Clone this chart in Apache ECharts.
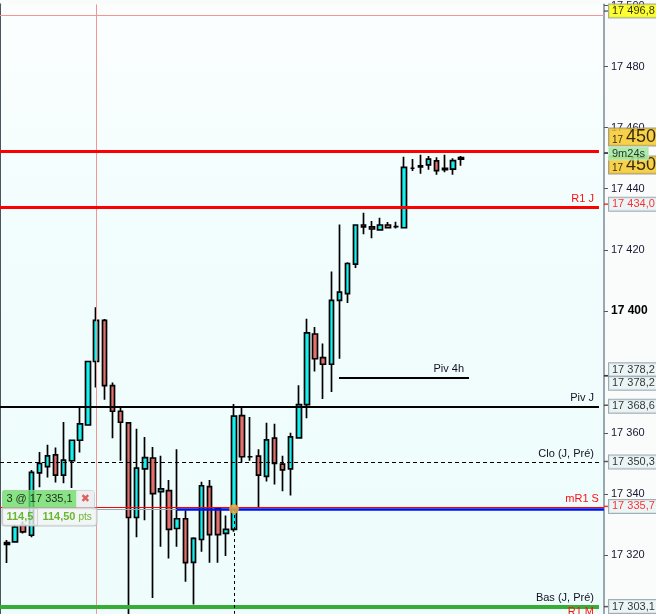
<!DOCTYPE html>
<html><head><meta charset="utf-8">
<script src="https://cdn.jsdelivr.net/npm/echarts@6/dist/echarts.min.js"></script>
<style>html,body{margin:0;padding:0;background:#fafcfc}#c{width:656px;height:614px}</style>
</head><body><div id="c"></div><script>
// ---- data ----
const candleIndex = [0,1,2,3,4,5,6,7,8,9,10,11,12,13,14,15,16,17,18,19,20,21,22,23,24,25,26,27,28,29,30,31,32,33,34,35,36,37,38,39,40,41,42,43,44,45,46,47,48,49,50,51,52,53,54,55,56];
const opens = [17323.5,17324.3,17329.7,17326.5,17346.9,17349.0,17352.8,17346.2,17350.9,17357.6,
17362.6,17383.4,17396.9,17375.5,17367.1,17363.3,17332.3,17348.2,17351.8,17340.8,
17341.1,17328.7,17331.9,17317.6,17325.1,17342.4,17335.2,17327.1,17328.4,17365.7,
17352.2,17352.4,17345.8,17358.3,17349.8,17348.2,17358.4,17369.3,17392.4,17384.7,
17382.5,17403.4,17405.6,17415.3,17428.1,17427.5,17426.5,17428.1,17427.6,17427.2,
17446.7,17447.1,17447.8,17449.1,17446.2,17446.4,17449.7];
const closes = [17324.1,17329.2,17327.6,17347.1,17350.0,17352.5,17346.2,17351.1,17357.6,17363.0,
17383.4,17396.9,17375.5,17367.1,17363.5,17332.3,17348.5,17351.9,17340.1,17341.7,
17328.4,17331.9,17317.5,17325.5,17342.7,17326.7,17326.7,17328.4,17365.5,17352.2,
17352.2,17346.2,17357.7,17350.0,17347.9,17358.7,17369.3,17392.8,17384.3,17382.5,
17403.4,17406.1,17415.5,17428.1,17427.5,17426.8,17428.1,17427.2,17427.6,17447.0,
17446.7,17447.5,17449.7,17445.9,17446.7,17449.2,17450.2];
const lows = [17317.4,17324.0,17327.1,17325.8,17342.2,17345.4,17343.8,17343.5,17342.0,17353.6,
17362.4,17374.9,17370.9,17358.3,17350.9,17298.0,17325.8,17331.4,17305.9,17322.7,
17318.9,17322.7,17311.3,17303.8,17321.1,17317.5,17317.5,17319.7,17327.6,17350.3,
17350.9,17335.7,17344.1,17343.1,17340.9,17339.5,17358.3,17364.8,17380.1,17371.1,
17373.4,17384.3,17402.6,17414.0,17425.1,17423.8,17426.5,17427.0,17427.0,17427.0,
17445.8,17444.9,17446.2,17444.6,17445.4,17444.6,17447.5];
const highs = [17324.9,17330.0,17331.0,17347.9,17353.8,17356.1,17355.2,17363.6,17357.8,17368.4,
17383.6,17401.2,17397.3,17376.5,17368.2,17363.5,17361.4,17358.7,17355.4,17352.5,
17344.6,17354.7,17334.6,17325.8,17344.0,17344.6,17335.7,17333.0,17369.5,17368.7,
17365.2,17354.7,17363.3,17363.0,17352.5,17360.1,17375.6,17397.4,17394.7,17389.3,
17412.9,17428.3,17415.9,17428.3,17432.1,17429.4,17430.5,17429.1,17429.2,17450.5,
17449.7,17451.1,17450.7,17450.3,17451.1,17450.0,17450.7];

const levelNames  = ['', 'R1 J', 'Piv 4h', 'Piv J', 'Clo (J, Pré)', 'mR1 S', 'Bas (J, Pré)'];
const levelPrices = [17452.3, 17434.0, 17378.2, 17368.6, 17350.3, 17335.7, 17303.1];
const r1mName = 'R1 M';
const r1mPrice = 17298.7;
const entryPrice = 17335.1;
const entryIndex = 28;
const crossIndex = 11;
const crossPrice = 17496.8;
const lastPrice = 17450.6;
const timerText = '9m24s';
const positionTexts = ['3 @ 17 335,1', '114,5', '114,50', 'pts'];
const tickValues = [17320, 17340, 17360, 17400, 17420, 17440, 17460, 17480, 17500];
const tagPrices = [17496.8, 17434.0, 17378.2, 17378.2, 17368.6, 17350.3, 17335.7, 17303.1];

// ---- helpers ----
function fmt(v, d) {
  const s = d ? v.toFixed(d) : String(Math.round(v));
  const parts = s.split('.');
  const ip = parts[0];
  let out = ip.slice(0, ip.length - 3) + ' ' + ip.slice(-3);
  if (parts[1]) out += ',' + parts[1];
  return out;
}
const FONT = 'Liberation Sans';
const YMIN = 17300.7, YMAX = 17500.4;
const XMIN = -0.863, XMAX = 73.64;
const X0 = -0.86, XEND = 73.02, XAX = 73.63;

const levelStyles = [
  {color:'#ff0000', width:3, type:'solid', from:X0, to:XEND, text:'#ff0000'},
  {color:'#ff0000', width:3, type:'solid', from:X0, to:XEND, text:'#ff1010'},
  {color:'#000000', width:2, type:'solid', from:40.95, to:56.99, text:'#111122'},
  {color:'#000000', width:2, type:'solid', from:X0, to:XEND, text:'#111122'},
  {color:'#000000', width:1, type:[4,3], from:X0, to:XEND, text:'#111122'},
  {color:'#ff0000', width:1, type:'solid', from:X0, to:XAX, text:'#ff1010'},
  {color:'#36ad36', width:4, type:'solid', from:X0, to:XEND, text:'#111122'}
];

const markLines = [];
// crosshair
markLines.push([{coord:[crossIndex, YMIN+0.05], lineStyle:{color:'#f49494', width:1, type:'solid'}, label:{show:false}}, {coord:[crossIndex, YMAX-0.05]}]);
markLines.push([{coord:[X0, crossPrice], lineStyle:{color:'#f49494', width:1, type:'solid'}, label:{show:false}}, {coord:[XAX, crossPrice]}]);
// gray connector
markLines.push([{coord:[10.6, entryPrice-0.25], lineStyle:{color:'#a0a4a8', width:1, type:'solid'}, label:{show:false}}, {coord:[entryIndex, entryPrice-0.25]}]);
levelPrices.forEach((p, i) => {
  const st = levelStyles[i];
  markLines.push([{coord:[st.from, p], lineStyle:{color:st.color, width:st.width, type:st.type},
    label:{show: !!levelNames[i], position:'insideEndTop', formatter: levelNames[i], color: st.text, fontSize:11, fontFamily:FONT, distance:[5,3]}},
    {coord:[st.to, p]}]);
});
// blue position line
markLines.push([{coord:[20.95, entryPrice], lineStyle:{color:'#0010e8', width:2.5, type:'solid'}, label:{show:false}}, {coord:[XAX, entryPrice]}]);
// dashed drop line from entry
markLines.push([{coord:[entryIndex, entryPrice], lineStyle:{color:'#000', width:1, type:[3,3]}, label:{show:false}}, {coord:[entryIndex, YMIN+0.05]}]);

const tagStyles = [
  {bg:'#ffff00', color:'#000', dy:0, tick:'#444'},
  {bg:'#e9f2f2', color:'#ff0000', dy:0, tick:'#ff0000'},
  {bg:'#e9f2f2', color:'#000', dy:-6, tick:'#333'},
  {bg:'#e9f2f2', color:'#000', dy:7.5, tick:'#333'},
  {bg:'#e9f2f2', color:'#000', dy:1, tick:'#333'},
  {bg:'#e9f2f2', color:'#000', dy:0.5, tick:'#333'},
  {bg:'#e9f2f2', color:'#ff0000', dy:0, tick:'#ff0000'},
  {bg:'#e9f2f2', color:'#000', dy:0, tick:'#333'}
];
const tagData = tagPrices.map((p, i) => ({
  value:[0, p],
  itemStyle:{color: tagStyles[i].tick},
  label:{show:true, position:'right', distance:1, offset:[0, tagStyles[i].dy],
    formatter: fmt(p, 1), color: tagStyles[i].color, fontSize:11, fontFamily:FONT,
    backgroundColor: tagStyles[i].bg, borderColor:'#8898a4', borderWidth:1,
    padding:[1,8,0,3], lineHeight:12}
}));
const bigTagLabel = (dy) => ({show:true, position:'right', distance:1, offset:[0, dy],
  formatter: '{s|17 }{b|' + fmt(lastPrice, 1).slice(3) + '}',
  backgroundColor:'#f8c51e', borderColor:'#8a8a80', borderWidth:1, padding:[0,4,0,3],
  rich:{s:{fontSize:10, fontFamily:FONT, color:'#000', verticalAlign:'bottom', lineHeight:16},
        b:{fontSize:18, fontFamily:FONT, color:'#000', lineHeight:17}}});

const chart = echarts.init(document.getElementById('c'), null, {renderer:'canvas'});
chart.setOption({
  animation:false,
  backgroundColor:'#fafcfc',
  textStyle:{fontFamily:FONT},
  grid:[
    {left:0, right:52, top:0, bottom:0, show:true, borderWidth:0,
     backgroundColor:{type:'linear', x:0, y:0, x2:0, y2:1, colorStops:[
       {offset:0, color:'#fcfefe'}, {offset:0.35, color:'#f2fdfd'}, {offset:1, color:'#eefcfc'}]}},
    {left:604, right:0, top:0, bottom:0}
  ],
  xAxis:[
    {type:'value', gridIndex:0, min:XMIN, max:XMAX, show:false},
    {type:'value', gridIndex:1, min:0, max:1, show:false}
  ],
  yAxis:[
    {type:'value', gridIndex:0, position:'right', min:YMIN, max:YMAX, scale:true,
     axisLine:{show:true, onZero:false, lineStyle:{color:'#7b8b97', width:1.5}},
     splitLine:{show:false},
     axisTick:{show:true, customValues:tickValues, length:4, lineStyle:{color:'#556', width:1}},
     axisLabel:{show:true, customValues:tickValues, margin:7, fontSize:11, color:'#1a1530', fontFamily:FONT,
       formatter: v => v === 17400 ? '{b|' + fmt(v) + '}' : fmt(v),
       rich:{b:{fontSize:12, fontWeight:'bold', color:'#000', fontFamily:FONT}}}},
    {type:'value', gridIndex:0, position:'left', min:YMIN, max:YMAX,
     axisLine:{show:true, onZero:false, lineStyle:{color:'#4a5560', width:2}},
     axisTick:{show:false}, axisLabel:{show:false}, splitLine:{show:false}},
    {type:'value', gridIndex:1, min:YMIN, max:YMAX, show:false}
  ],
  series:[
    {type:'candlestick', xAxisIndex:0, yAxisIndex:0, barWidth:5,
     data: candleIndex.map((x, i) => [x, opens[i], closes[i], lows[i], highs[i]]),
     itemStyle:{color:'#16f0ee', color0:'#e2706c', borderColor:'#000', borderColor0:'#000', borderColorDoji:'#000', borderWidth:1.7},
     markLine:{symbol:['none','none'], silent:true, animation:false, data: markLines}},
    {type:'scatter', xAxisIndex:0, yAxisIndex:0, z:6, symbolSize:9,
     itemStyle:{color:'#f6b74a', borderColor:'#e09a20', borderWidth:1},
     data:[[entryIndex, entryPrice]]},
    {type:'scatter', xAxisIndex:0, yAxisIndex:0, z:8, symbolSize:1, itemStyle:{color:'rgba(0,0,0,0)'},
     data:[
      {value:[-0.5, entryPrice], label:{show:true, position:[0,-18],
        formatter:'{a|' + positionTexts[0] + '}{x|✖}',
        borderColor:'#b4b8b8', borderWidth:1, borderRadius:[3,3,0,0],
        rich:{a:{width:70, height:17, padding:[0,0,0,4], backgroundColor:'#6edc66', color:'#000', fontSize:11, fontFamily:FONT},
              x:{width:18, height:17, align:'center', backgroundColor:'#ececec', color:'#e03838', fontSize:11, fontWeight:'bold', fontFamily:'DejaVu Sans'}}}},
      {value:[-0.5, entryPrice], label:{show:true, position:[0,0],
        formatter:'{b|' + positionTexts[1] + '}{c|' + positionTexts[2] + '}{d|' + positionTexts[3] + '}',
        borderColor:'#b4b8b8', borderWidth:1, borderRadius:[0,0,3,3], backgroundColor:'#f3f4f4',
        rich:{b:{width:31, height:17, padding:[0,0,0,4], color:'#46a800', fontWeight:'bold', fontSize:11, fontFamily:FONT, borderColor:'#c8c8c8', borderWidth:1},
              c:{height:17, padding:[0,3,0,5], color:'#46a800', fontWeight:'bold', fontSize:11, fontFamily:FONT},
              d:{height:17, width:16, padding:[0,2,0,0], color:'#46a800', fontSize:10, fontFamily:FONT}}}}
     ]},
    {type:'scatter', xAxisIndex:1, yAxisIndex:2, z:5, symbol:'rect', symbolSize:[4,1.5], symbolOffset:[2,0],
     data: tagData},
    {type:'scatter', xAxisIndex:1, yAxisIndex:2, z:6, symbol:'rect', symbolSize:[4,1.5], symbolOffset:[2,0],
     itemStyle:{color:'#444'},
     data:[{value:[0,lastPrice], label:bigTagLabel(-16)}]},
    {type:'scatter', xAxisIndex:1, yAxisIndex:2, z:7, symbol:'rect', symbolSize:[4,1.5], symbolOffset:[2,0],
     itemStyle:{color:'#444'},
     data:[{value:[0,lastPrice], label:bigTagLabel(12)}]},
    {type:'scatter', xAxisIndex:1, yAxisIndex:2, z:9, symbol:'rect', symbolSize:[4,1.5], symbolOffset:[2,0],
     itemStyle:{color:'#444'},
     data:[{value:[0,lastPrice], label:{show:true, position:'right', distance:1, offset:[0,0.5], formatter: timerText,
       color:'#000', fontSize:11, fontFamily:FONT, backgroundColor:'#9be89b', borderColor:'#c8e8c8', borderWidth:1, padding:[1,3,0,3], lineHeight:11}}]}
  ]
});
// label of an out-of-view level, placed through the library's scale
const pr = chart.convertToPixel({xAxisIndex:0, yAxisIndex:0}, [XEND, r1mPrice]);
chart.setOption({graphic:[{type:'text', x:pr[0]-5, y:pr[1]-3, z:50,
  style:{text:r1mName, fill:'#ff1010', font:'11px "Liberation Sans"', textAlign:'right', textVerticalAlign:'bottom'}}]});
</script></body></html>
